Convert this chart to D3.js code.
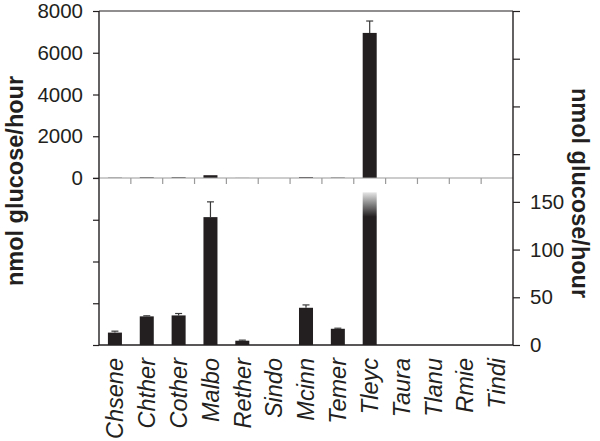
<!DOCTYPE html>
<html>
<head>
<meta charset="utf-8">
<script src="https://cdn.jsdelivr.net/npm/d3@7"></script>
<style>
  body { margin: 0; background: #fff; }
  svg { display: block; font-family: "Liberation Sans", Arial, sans-serif; }
</style>
</head>
<body>
<div id="chart"></div>
<script>
// species and glucose release (nmol glucose/hour), with error
const species = ['Chsene', 'Chther', 'Cother', 'Malbo', 'Rether', 'Sindo', 'Mcinn',
                 'Temer', 'Tleyc', 'Taura', 'Tlanu', 'Rmie', 'Tindi'];
const activity = [13, 30, 31, 134, 4.5, 0, 39, 17, 6950, 0, 0, 0, 0];
const errors = [1.5, 0.6, 2, 16, 0.6, 0, 3, 0.6, 570, 0, 0, 0, 0];

const topTicks = [0, 2000, 4000, 6000, 8000];
const topRightTicks = [25, 75, 125, 175];
const bottomTicks = [0, 50, 100, 150];
const bottomLeftTicks = [0, 1, 2, 3];
const bottomClip = 160; // bars above this are faded out in the lower panel

const data = species.map((name, i) => ({ name, value: activity[i], err: errors[i] }));

const width = 600;
const height = 441;
const ink = '#231f20';

const svg = d3.select('#chart').append('svg')
    .attr('width', width)
    .attr('height', height);

const left = 99, right = 513;
const topY = 11, midY = 178, botY = 345;

const x = d3.scaleBand()
    .domain(species)
    .range([left, right])
    .paddingInner(0.56)
    .paddingOuter(0.28);

const yTop = d3.scaleLinear().domain([0, 8000]).range([midY, topY]);
const yTopRight = d3.scaleLinear().domain([0, 175]).range([midY, topY]);
const yBot = d3.scaleLinear().domain([0, 175]).range([botY, midY]);
const yBotLeft = d3.scaleLinear().domain([0, 4]).range([botY, midY]);

const defs = svg.append('defs');
const grad = defs.append('linearGradient')
    .attr('id', 'fade')
    .attr('x1', 0).attr('y1', 0).attr('x2', 0).attr('y2', 1);
grad.append('stop').attr('offset', '0%').attr('stop-color', '#e6e6e6');
grad.append('stop').attr('offset', '6%').attr('stop-color', '#9a9a9a');
grad.append('stop').attr('offset', '16%').attr('stop-color', ink);
grad.append('stop').attr('offset', '100%').attr('stop-color', ink);

// upper panel bars
svg.append('g').selectAll('rect')
    .data(data)
    .enter()
    .append('rect')
    .attr('x', d => x(d.name))
    .attr('y', d => yTop(d.value))
    .attr('width', x.bandwidth())
    .attr('height', d => yTop(0) - yTop(d.value))
    .attr('fill', ink);

// lower panel bars
svg.append('g').selectAll('rect')
    .data(data)
    .enter()
    .append('rect')
    .attr('x', d => x(d.name))
    .attr('y', d => yBot(Math.min(d.value, bottomClip)))
    .attr('width', x.bandwidth())
    .attr('height', d => yBot(0) - yBot(Math.min(d.value, bottomClip)))
    .attr('fill', d => d.value > bottomClip ? 'url(#fade)' : ink);

const errorBars = (g, rows, y) => {
    const sel = g.selectAll('g').data(rows).enter().append('g')
        .attr('stroke', '#3a3a3a')
        .attr('stroke-width', 1.2);
    const cx = d => x(d.name) + x.bandwidth() / 2;
    sel.append('line')
        .attr('x1', cx).attr('x2', cx)
        .attr('y1', d => y(d.value)).attr('y2', d => y(d.value + d.err));
    sel.append('line')
        .attr('x1', d => cx(d) - 3.5).attr('x2', d => cx(d) + 3.5)
        .attr('y1', d => y(d.value + d.err)).attr('y2', d => y(d.value + d.err));
};

errorBars(svg.append('g'), data.filter(d => yTop(0) - yTop(d.value + d.err) > 4), yTop);
errorBars(svg.append('g'), data.filter(d => d.err > 0.4 && d.value <= bottomClip), yBot);

// frame lines
svg.append('line')
    .attr('x1', left).attr('x2', right)
    .attr('y1', topY).attr('y2', topY)
    .attr('stroke', ink).attr('stroke-width', 1.2);

// upper baseline with ticks at band edges
const edges = species.slice(1).map(s => x(s) - x.step() * x.paddingInner() / 2);
const upperBase = svg.append('g').attr('stroke', '#9a9a9a').attr('stroke-width', 1.2);
upperBase.append('line')
    .attr('x1', left - 6).attr('x2', right)
    .attr('y1', midY).attr('y2', midY);
upperBase.selectAll('.edge')
    .data(edges)
    .enter()
    .append('line')
    .attr('x1', d => d).attr('x2', d => d)
    .attr('y1', midY).attr('y2', midY + 6);

// lower baseline
svg.append('line')
    .attr('x1', left).attr('x2', right)
    .attr('y1', botY).attr('y2', botY)
    .attr('stroke', ink).attr('stroke-width', 1.4);

const styleAxis = g => {
    g.select('.domain').remove();
    g.selectAll('line').attr('stroke', ink).attr('stroke-width', 1.2);
    g.selectAll('text').attr('fill', ink).style('font-size', '20.5px');
};

// left axis
svg.append('line')
    .attr('x1', left).attr('x2', left)
    .attr('y1', topY).attr('y2', botY)
    .attr('stroke', ink).attr('stroke-width', 1.4);

svg.append('g')
    .attr('transform', `translate(${left},0)`)
    .call(d3.axisLeft(yTop).tickValues(topTicks).tickSize(6).tickPadding(10).tickFormat(d3.format('d')))
    .call(styleAxis);

svg.append('g')
    .attr('transform', `translate(${left},0)`)
    .call(d3.axisLeft(yBotLeft).tickValues(bottomLeftTicks).tickSize(6).tickFormat(''))
    .call(styleAxis);

// right axis
svg.append('line')
    .attr('x1', right).attr('x2', right)
    .attr('y1', topY).attr('y2', botY)
    .attr('stroke', ink).attr('stroke-width', 1.4);

svg.append('g')
    .attr('transform', `translate(${right},0)`)
    .call(d3.axisRight(yTopRight).tickValues(topRightTicks).tickSize(7).tickFormat(''))
    .call(styleAxis);

svg.append('g')
    .attr('transform', `translate(${right},0)`)
    .call(d3.axisRight(yBot).tickValues(bottomTicks).tickSize(7).tickPadding(10))
    .call(styleAxis);

// category labels
svg.append('g').selectAll('text')
    .data(species)
    .enter()
    .append('text')
    .attr('transform', d => `translate(${x(d) + x.bandwidth() / 2},${botY + 13}) rotate(-90)`)
    .attr('text-anchor', 'end')
    .attr('dy', '0.35em')
    .style('font-size', '23.5px')
    .style('font-style', 'italic')
    .attr('fill', ink)
    .text(d => d);

// axis titles
svg.append('text')
    .attr('transform', 'translate(15,181) rotate(-90)')
    .attr('text-anchor', 'middle')
    .attr('dy', '0.35em')
    .style('font-size', '23.5px')
    .style('font-weight', 'bold')
    .attr('fill', ink)
    .text('nmol glucose/hour');

svg.append('text')
    .attr('transform', 'translate(580,193) rotate(90)')
    .attr('text-anchor', 'middle')
    .attr('dy', '0.35em')
    .style('font-size', '23.5px')
    .style('font-weight', 'bold')
    .attr('fill', ink)
    .text('nmol glucose/hour');
</script>
</body>
</html>
